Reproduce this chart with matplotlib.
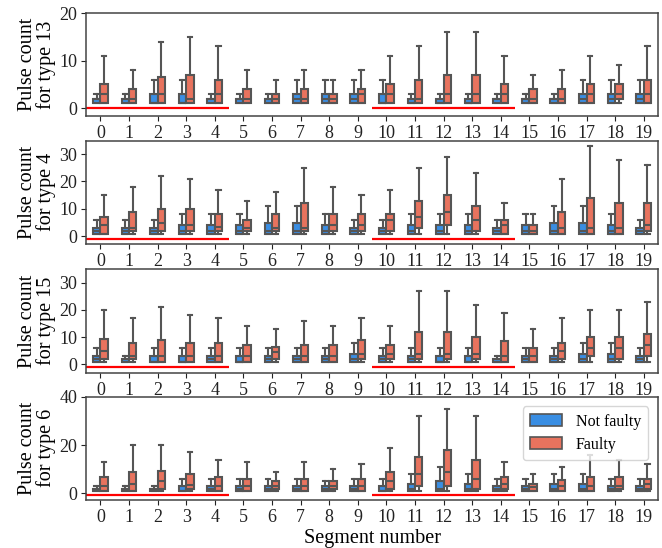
import matplotlib
matplotlib.use('Agg')
import matplotlib.pyplot as plt
from matplotlib.patches import Patch

plt.rcParams['font.family'] = ['Liberation Serif', 'DejaVu Serif']

segments = list(range(20))

# box stats per segment: (whisker low, q1, median, q3, whisker high)
type13_not_faulty = [
    (1, 1, 2, 2, 3), (1, 1, 2, 2, 3), (1, 1, 1, 3, 6), (1, 1, 1, 3, 6), (1, 1, 2, 2, 3),
    (1, 1, 2, 2, 3), (1, 1, 2, 2, 3), (1, 1, 2, 3, 6), (1, 1, 2, 3, 6), (1, 1, 2, 3, 6),
    (1, 1, 1, 3, 6), (1, 1, 1, 2, 3), (1, 1, 1, 2, 3), (1, 1, 1, 2, 3), (1, 1, 2, 2, 3),
    (1, 1, 2, 2, 3), (1, 1, 2, 2, 3), (1, 1, 2, 3, 6), (1, 1, 2, 3, 6), (1, 1, 2, 3, 6),
]
type13_faulty = [
    (1, 1, 3, 5, 11), (1, 1, 2, 4, 8), (1, 1, 3, 6.5, 14), (1, 1, 2, 7, 15), (1, 1, 3, 6, 13),
    (1, 1, 2, 4, 8), (1, 1, 2, 3, 6), (1, 1, 2, 4, 8), (1, 1, 2, 3, 6), (1, 1, 3, 4, 8),
    (1, 1, 3, 5, 11), (1, 1, 2, 6, 13), (1, 1, 3, 7, 16), (1, 1, 3, 7, 16), (1, 1, 3, 5, 11),
    (1, 1, 2, 4, 7), (1, 1, 2, 4, 8), (1, 1, 3, 5, 11), (1, 2, 3, 5, 9), (1, 1, 3, 6, 13),
]
type4_not_faulty = [
    (1, 1, 2, 3, 6), (1, 1, 2, 3, 6), (1, 1, 2, 3, 6), (1, 1, 2, 4, 8), (1, 1, 2, 4, 8),
    (1, 1, 2, 4, 8), (1, 1, 2, 5, 11), (1, 1, 2, 5, 11), (1, 1, 2, 4, 8), (1, 1, 2, 3, 6),
    (1, 1, 2, 3, 6), (1, 1, 2, 4, 8), (1, 1, 2, 4, 8), (1, 1, 2, 4, 8), (1, 1, 2, 3, 6),
    (1, 1, 2, 4, 8), (1, 1, 2, 5, 11), (1, 1, 2, 5, 11), (1, 1, 2, 4, 8), (1, 1, 2, 3, 6),
]
type4_faulty = [
    (1, 1, 4, 7, 15), (1, 2, 3, 9, 18), (1, 2, 5, 10, 22), (1, 2, 4, 10, 21), (1, 2, 3.5, 8, 17),
    (1, 2, 3, 6, 13), (1, 2, 3, 8, 16), (1, 2, 3, 12, 25), (1, 2, 4, 8, 18), (1, 2, 4, 8, 15),
    (1, 2, 6, 8, 17), (1, 3, 7, 13, 25), (1, 4, 9, 15, 29), (1, 2, 6, 11, 23), (1, 1, 4, 6, 12),
    (1, 1, 2, 4, 8), (1, 1, 3, 9, 21), (1, 1, 3, 14, 33), (1, 1, 3, 12, 28), (1, 2, 4, 12, 26),
]
type15_not_faulty = [
    (1, 1, 2, 3, 6), (1, 1, 2, 2, 3), (1, 1, 1, 3, 6), (1, 1, 1, 3, 6), (1, 1, 2, 3, 6),
    (1, 1, 1, 3, 6), (1, 1, 2, 3, 6), (1, 1, 2, 3, 6), (1, 1, 2, 3, 6), (1, 1, 2, 4, 8),
    (1, 1, 2, 3, 6), (1, 1, 2, 3, 6), (1, 1, 1, 3, 6), (1, 1, 1, 3, 6), (1, 1, 1, 2, 3),
    (1, 1, 2, 3, 6), (1, 1, 2, 3, 6), (1, 1, 2, 4, 8), (1, 1, 2, 4, 8), (1, 1, 2, 3, 6),
]
type15_faulty = [
    (1, 2, 5, 9.5, 20), (1, 2, 3, 8, 17), (1, 1, 3, 9, 21), (1, 1, 3, 8, 18), (1, 1, 3, 8, 17),
    (1, 1, 3, 7, 14), (1, 2, 4.5, 6.5, 13), (1, 1, 3, 7, 16), (1, 1, 3, 7, 14), (1, 2, 4, 9, 17),
    (1, 2, 4, 7, 14), (1, 2, 4, 12, 27), (1, 2, 4, 12, 27), (1, 2, 4, 10, 22), (1, 1, 3, 8.5, 19),
    (1, 1, 3, 6, 13), (1, 2, 5, 8, 17), (1, 3, 6, 10, 20), (1, 2, 6, 10, 20), (1, 3, 7, 11, 23),
]
type6_not_faulty = [
    (1, 1, 2, 2, 3), (1, 1, 2, 2, 3), (1, 1, 2, 2, 3), (1, 1, 1, 3, 6), (1, 1, 2, 3, 6),
    (1, 1, 2, 3, 6), (1, 1, 2, 3, 6), (1, 1, 2, 3, 6), (1, 1, 2, 3, 5), (1, 1, 2, 3, 6),
    (1, 1, 1, 3, 6), (1, 1, 2, 4, 8), (1, 1, 2, 5, 11), (1, 1, 2, 4, 8), (1, 1, 2, 3, 6),
    (1, 1, 2, 3, 6), (1, 1, 2, 4, 8), (1, 1, 2, 4, 8), (1, 1, 2, 3, 6), (1, 1, 2, 3, 6),
]
type6_faulty = [
    (1, 1, 3, 7, 13), (1, 1, 4, 9, 20), (1, 2, 5, 9.5, 20), (1, 2, 3.5, 8, 17), (1, 1, 3, 7, 14),
    (1, 1, 3, 6, 13), (1, 2, 3, 5, 9), (1, 1, 3, 6, 13), (1, 2, 3, 5, 10), (1, 1, 3, 6, 12),
    (1, 2, 5, 9, 19), (1, 3, 8, 15, 32), (1, 3, 9, 18, 35), (1, 2, 6, 14, 32), (1, 2, 4, 7, 13),
    (1, 1, 2.5, 4, 8), (1, 1, 3, 5.5, 11), (1, 1, 3, 7, 16), (1, 2, 3, 7, 14), (1, 2, 4, 6, 12),
]

panel_types = ['13', '4', '15', '6']
panel_data = [
    (type13_not_faulty, type13_faulty),
    (type4_not_faulty, type4_faulty),
    (type15_not_faulty, type15_faulty),
    (type6_not_faulty, type6_faulty),
]
panel_ylims = [(-1.7, 20), (-2.7, 34.8), (-3.2, 35), (-2.6, 40)]
panel_yticks = [[0, 10, 20], [0, 10, 20, 30], [0, 10, 20, 30], [0, 20, 40]]
highlight_spans = [(-0.5, 4.5), (9.5, 14.5)]
highlight_y = [0, -1, -1, -0.8]

hue_labels = ['Not faulty', 'Faulty']
hue_colors = ['#3a8ee3', '#e8735e']
edge = '#555555'

fig = plt.figure(figsize=(6.62, 5.48), dpi=100)
axes_rects = [
    [0.130, 0.788, 0.864, 0.188],
    [0.130, 0.555, 0.864, 0.188],
    [0.130, 0.319, 0.864, 0.190],
    [0.130, 0.088, 0.864, 0.188],
]


def to_stats(rows):
    return [dict(whislo=r[0], q1=r[1], med=r[2], q3=r[3], whishi=r[4]) for r in rows]


for i, rect in enumerate(axes_rects):
    ax = fig.add_axes(rect)
    for h, (rows, color) in enumerate(zip(panel_data[i], hue_colors)):
        offset = -0.13 if h == 0 else 0.13
        ax.bxp(to_stats(rows), positions=[s + offset for s in segments],
               widths=0.26, capwidths=0.15, patch_artist=True, showfliers=False,
               boxprops=dict(facecolor=color, edgecolor=edge, linewidth=1.5),
               medianprops=dict(color=edge, linewidth=1.5),
               whiskerprops=dict(color=edge, linewidth=1.5),
               capprops=dict(color=edge, linewidth=1.5))
    for x0, x1 in highlight_spans:
        ax.plot([x0, x1], [highlight_y[i]] * 2, color='red', linewidth=1.6,
                solid_capstyle='butt', zorder=1)
    ax.set_xlim(-0.5, 19.5)
    ax.set_ylim(*panel_ylims[i])
    ax.set_yticks(panel_yticks[i])
    ax.set_xticks(segments)
    ax.set_xticklabels([str(s) for s in segments])
    ax.tick_params(labelsize=13, colors='#222222', length=3.5, pad=3)
    for sp in ax.spines.values():
        sp.set_color('#444444')
        sp.set_linewidth(1.1)
    ax.set_ylabel('Pulse count\nfor type ' + panel_types[i], fontsize=14.5,
                  linespacing=0.95, labelpad=2)
    if i == 3:
        ax.set_xlabel('Segment number', fontsize=14.5, labelpad=2)
        handles = [Patch(facecolor=c, edgecolor=edge, linewidth=1.2) for c in hue_colors]
        ax.legend(handles, hue_labels, loc='upper right', fontsize=11.5,
                  handlelength=2.0, handleheight=0.75, borderpad=0.45,
                  labelspacing=0.45, handletextpad=0.85, borderaxespad=0.6)

fig.savefig('out.png', dpi=100)
